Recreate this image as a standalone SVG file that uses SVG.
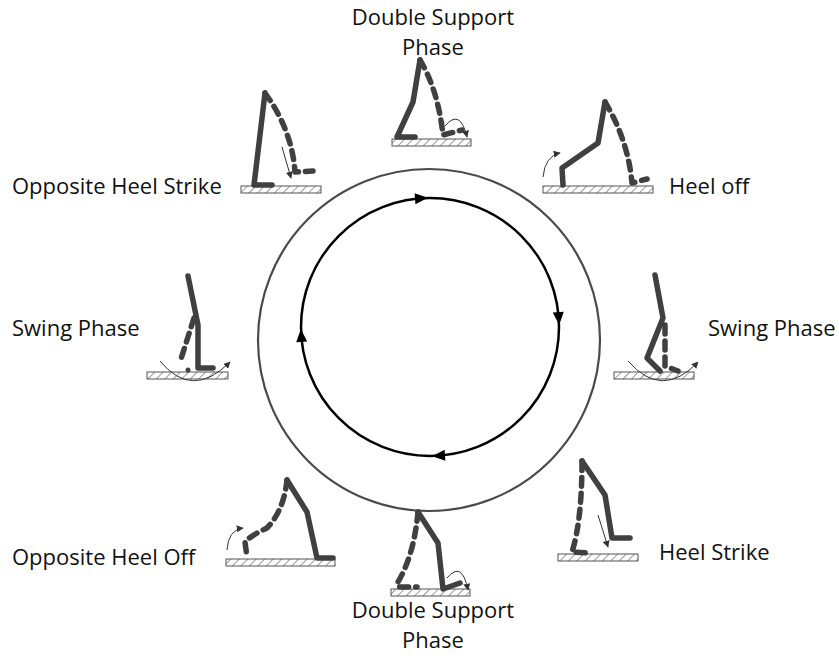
<svg xmlns="http://www.w3.org/2000/svg" width="839" height="656" viewBox="0 0 839 656">
<style>
.lbl{font-family:"Open Sans","Liberation Sans",Arial,sans-serif;font-size:22px;fill:#111}
.solid{fill:none;stroke:#404040;stroke-width:5.5;stroke-linecap:round;stroke-linejoin:round}
.dash{fill:none;stroke:#404040;stroke-width:5.5;stroke-linecap:round;stroke-linejoin:round;stroke-dasharray:9 7}
.bar{fill:url(#hatch);stroke:#555;stroke-width:1}
.thin{fill:none;stroke:#333;stroke-width:1;marker-end:url(#ah)}
</style>
<defs>
<pattern id="hatch" width="6" height="6" patternUnits="userSpaceOnUse" patternTransform="rotate(45)">
<rect width="6" height="6" fill="#fff"/>
<line x1="0" y1="0" x2="0" y2="6" stroke="#555" stroke-width="1.2"/>
</pattern>
<marker id="ah" viewBox="0 0 10 10" refX="9" refY="5" markerWidth="7" markerHeight="7" orient="auto" markerUnits="userSpaceOnUse">
<path d="M0,0 L10,5 L0,10 z" fill="#333"/>
</marker>
</defs>
<g id="ring">
<circle cx="429" cy="340" r="171" fill="none" stroke="#4a4a4a" stroke-width="2.2"/>
</g>
<g id="connectors">
<circle cx="430" cy="327" r="129" fill="none" stroke="#000" stroke-width="2.5"/>
<g id="arrowheads" fill="#000">
<path d="M437,198 L424,192.5 L424,203.5 z" transform="rotate(-4 430 327)"/>
<path d="M437,198 L424,192.5 L424,203.5 z" transform="rotate(86 430 327)"/>
<path d="M437,198 L424,192.5 L424,203.5 z" transform="rotate(176 430 327)"/>
<path d="M437,198 L424,192.5 L424,203.5 z" transform="rotate(266 430 327)"/>
</g>
</g>
<g id="fig-double-support-top">
<rect class="bar" x="392" y="139" width="79" height="7"/>
<path class="solid" d="M415,137 L397,137 L413,102 L420,60"/>
<path class="dash" d="M420,60 Q438,90 443,135 L462,130"/>
<path class="thin" d="M445,126 Q460,108 467,137"/>
<text class="lbl" x="433" y="25" text-anchor="middle">Double Support</text>
<text class="lbl" x="433" y="55" text-anchor="middle">Phase</text>
</g>
<g id="fig-opposite-heel-strike">
<rect class="bar" x="241" y="186" width="80" height="7"/>
<path class="solid" d="M265,93 L254,185 L272,185"/>
<path class="dash" d="M265,93 Q292,130 295,172 L313,171"/>
<path class="thin" d="M282,147 L291,178"/>
<text class="lbl" x="12" y="194">Opposite Heel Strike</text>
</g>
<g id="fig-heel-off">
<rect class="bar" x="543" y="186" width="110" height="7"/>
<path class="solid" d="M563,185 L562,168 L598,143 L605,102"/>
<path class="dash" d="M605,102 Q628,140 632,183 L647,179"/>
<path class="thin" d="M543,177 Q545,156 560,153"/>
<text class="lbl" x="669" y="194">Heel off</text>
</g>
<g id="fig-swing-left">
<rect class="bar" x="147" y="372" width="81" height="7"/>
<path class="solid" d="M188,276 L198,325 L198,368 L213,368"/>
<path class="dash" d="M194,318 L180,362"/>
<circle cx="188" cy="370" r="2.5" fill="#404040"/>
<path class="thin" d="M160,361 Q192,400 230,362"/>
<text class="lbl" x="12" y="336">Swing Phase</text>
</g>
<g id="fig-swing-right">
<rect class="bar" x="614" y="372" width="80" height="7"/>
<path class="solid" d="M655,275 L663,318 L647,358 L660,371"/>
<path class="dash" d="M665,325 L665,366 L678,371"/>
<path class="thin" d="M628,361 Q662,400 698,362"/>
<text class="lbl" x="708" y="336">Swing Phase</text>
</g>
<g id="fig-opposite-heel-off">
<rect class="bar" x="226" y="559" width="109" height="7"/>
<path class="solid" d="M287,480 L307,512 L317,558 L333,558"/>
<path class="dash" d="M287,480 Q284,510 267,528 Q250,536 245,542 L247,557"/>
<path class="thin" d="M227,550 Q228,530 243,528"/>
<text class="lbl" x="12" y="565">Opposite Heel Off</text>
</g>
<g id="fig-double-support-bottom">
<rect class="bar" x="391" y="589" width="79" height="7"/>
<path class="solid" d="M418,512 L438,543 L443,589 L460,583"/>
<path class="dash" d="M418,512 Q414,555 398,582 L398,587 L417,587"/>
<path class="thin" d="M447,578 Q462,560 468,590"/>
<text class="lbl" x="433" y="618" text-anchor="middle">Double Support</text>
<text class="lbl" x="433" y="648" text-anchor="middle">Phase</text>
</g>
<g id="fig-heel-strike">
<rect class="bar" x="558" y="554" width="80" height="7"/>
<path class="solid" d="M582,461 L605,495 L612,538 L630,538"/>
<path class="dash" d="M582,461 Q582,520 572,552 L590,553"/>
<path class="thin" d="M598,515 L608,547"/>
<text class="lbl" x="659" y="560">Heel Strike</text>
</g>
</svg>
